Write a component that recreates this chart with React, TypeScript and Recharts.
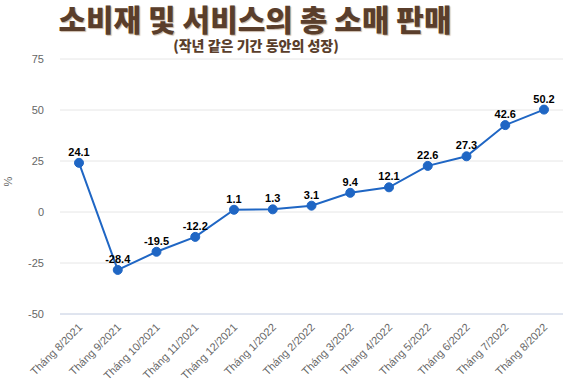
import React from 'react';
import { LineChart, Line, XAxis, YAxis, CartesianGrid, LabelList, ReferenceLine } from 'recharts';

const months = [
  'Tháng 8/2021', 'Tháng 9/2021', 'Tháng 10/2021', 'Tháng 11/2021', 'Tháng 12/2021',
  'Tháng 1/2022', 'Tháng 2/2022', 'Tháng 3/2022', 'Tháng 4/2022', 'Tháng 5/2022',
  'Tháng 6/2022', 'Tháng 7/2022', 'Tháng 8/2022',
];
const growth = [24.1, -28.4, -19.5, -12.2, 1.1, 1.3, 3.1, 9.4, 12.1, 22.6, 27.3, 42.6, 50.2];
const yTicks = [-50, -25, 0, 25, 50, 75];

const data = months.map((m, i) => ({ month: m, value: growth[i] }));

const font = '"Liberation Sans", Arial, sans-serif';

const MonthTick = (props: any) => {
  const { x, y, payload } = props;
  return (
    <g transform={`translate(${x + 4},${y + 6})`}>
      <text transform="rotate(-45)" textAnchor="end" fontSize={11} fill="#666" fontFamily={font}>
        {payload.value}
      </text>
    </g>
  );
};

const App: React.FC = () => (
  <div style={{ position: 'absolute', left: 0, top: 0, width: 567, height: 382, background: '#fff' }}>
    <div
      style={{
        position: 'absolute', left: 0, width: 510, top: 0, textAlign: 'center',
        fontFamily: '"Noto Sans CJK KR", sans-serif', fontWeight: 900, fontSize: 30,
        color: '#5a3e2b', textShadow: '1px 1px 1px #c9b9a9', lineHeight: '36px',
      }}
    >
      소비재 및 서비스의 총 소매 판매
    </div>
    <div
      style={{
        position: 'absolute', left: 0, width: 512, top: 37, textAlign: 'center',
        fontFamily: '"Noto Sans CJK KR", sans-serif', fontWeight: 900, fontSize: 14,
        color: '#5a3e2b', lineHeight: '17px',
      }}
    >
      (작년 같은 기간 동안의 성장)
    </div>
    <LineChart width={567} height={382} data={data} margin={{ top: 59, right: 4, left: 0, bottom: 0 }}>
      <CartesianGrid vertical={false} stroke="#e6e6e6" />
      <XAxis
        dataKey="month"
        interval={0}
        axisLine={false}
        tickLine={false}
        height={68}
        padding={{ left: 19, right: 19 }}
        tick={<MonthTick />}
      />
      <YAxis
        domain={[-50, 75]}
        ticks={yTicks}
        width={60}
        axisLine={false}
        tickLine={false}
        tickSize={0}
        tickMargin={16}
        tick={{ fontSize: 11, fill: '#666', fontFamily: font }}
        label={{ value: '%', angle: -90, position: 'insideLeft', offset: 8, fill: '#666', fontSize: 11, fontFamily: font }}
      />
      <ReferenceLine y={-50} stroke="#ccd6eb" />
      <Line
        type="linear"
        dataKey="value"
        stroke="#1f66c4"
        strokeWidth={2}
        dot={{ r: 4.5, fill: '#1f66c4', stroke: '#1f66c4', strokeWidth: 1 }}
        isAnimationActive={false}
      >
        <LabelList dataKey="value" position="top" offset={7} fill="#000" fontSize={11} fontWeight="bold" fontFamily={font} />
      </Line>
    </LineChart>
  </div>
);

export default App;
